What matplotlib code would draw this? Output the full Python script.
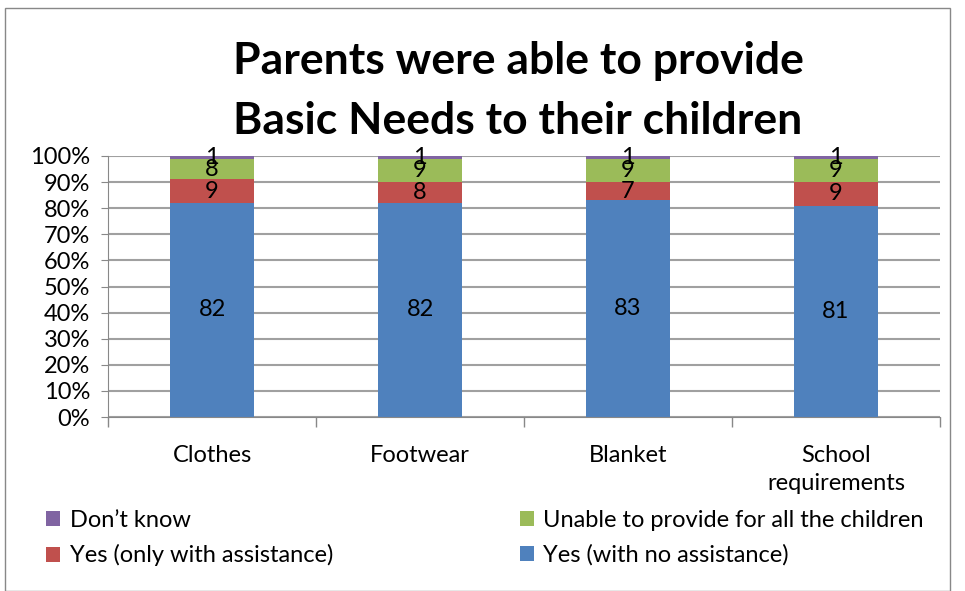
import numpy as np
import matplotlib.pyplot as plt
from matplotlib.patches import Rectangle

plt.rcParams['font.family'] = ['Lato', 'DejaVu Sans']

categories = ['Clothes', 'Footwear', 'Blanket', 'School\nrequirements']
yes_no_assist = [82, 82, 83, 81]
yes_with_assist = [9, 8, 7, 9]
unable_all = [8, 9, 9, 9]
dont_know = [1, 1, 1, 1]

series = [
    ('Yes (with no assistance)', yes_no_assist, '#4F81BD'),
    ('Yes (only with assistance)', yes_with_assist, '#C0504D'),
    ('Unable to provide for all the children', unable_all, '#9BBB59'),
    ('Don\u2019t know', dont_know, '#8064A2'),
]

fig = plt.figure(figsize=(9.65, 5.91), dpi=100)
ax = fig.add_axes([108 / 965, 1 - 417 / 591, 832 / 965, 261 / 591])

x = np.arange(len(categories))
totals = np.sum([s[1] for s in series], axis=0)
bottom = np.zeros(len(categories))
handles = {}
for name, vals, col in series:
    pct = np.array(vals) / totals * 100
    b = ax.bar(x, pct, 0.4, bottom=bottom, color=col, label=name, zorder=2)
    handles[name] = b
    for xi, bi, pi, v in zip(x, bottom, pct, vals):
        ax.text(xi, bi + pi / 2, str(v), ha='center', va='center', fontsize=17, zorder=3)
    bottom += pct

ax.set_xlim(-0.5, len(categories) - 0.5)
ax.set_ylim(0, 100)
ax.set_yticks(np.arange(0, 101, 10))
ax.set_yticklabels([f'{v}%' for v in range(0, 101, 10)], fontsize=17)
ax.yaxis.grid(True, color='#a0a0a0', linewidth=1.5, zorder=0)
ax.set_axisbelow(True)
ax.set_xticks(x)
ax.set_xticklabels(categories, fontsize=17, linespacing=1.4)
ax.set_xticks(np.arange(-0.5, len(categories), 1), minor=True)
ax.tick_params(axis='x', which='major', length=0, pad=20)
ax.tick_params(axis='x', which='minor', length=7, color='#888888', width=1)
ax.tick_params(axis='y', length=5, color='#888888', pad=8)
for s in ['top', 'right']:
    ax.spines[s].set_visible(False)
ax.spines['left'].set_color('#888888')
ax.spines['bottom'].set_color('#888888')

fig.text(518 / 965, 1 - 91 / 591, 'Parents were able to provide\nBasic Needs to their children',
         ha='center', va='center', fontsize=32, fontweight='bold', linespacing=1.6)

order = ['Don\u2019t know', 'Yes (only with assistance)',
         'Unable to provide for all the children', 'Yes (with no assistance)']
fig.legend([handles[n] for n in order], order, ncol=2, loc='upper left',
           bbox_to_anchor=(25 / 965, 1 - 489 / 591), frameon=False, fontsize=17,
           handlelength=0.6, handleheight=0.6, handletextpad=0.4,
           columnspacing=7.9, labelspacing=0.55)

fig.patches.append(Rectangle((5 / 965, 0), 945 / 965, 1 - 8 / 591, transform=fig.transFigure,
                             fill=False, edgecolor='#888888', linewidth=1))

fig.savefig('out.png', dpi=100)
